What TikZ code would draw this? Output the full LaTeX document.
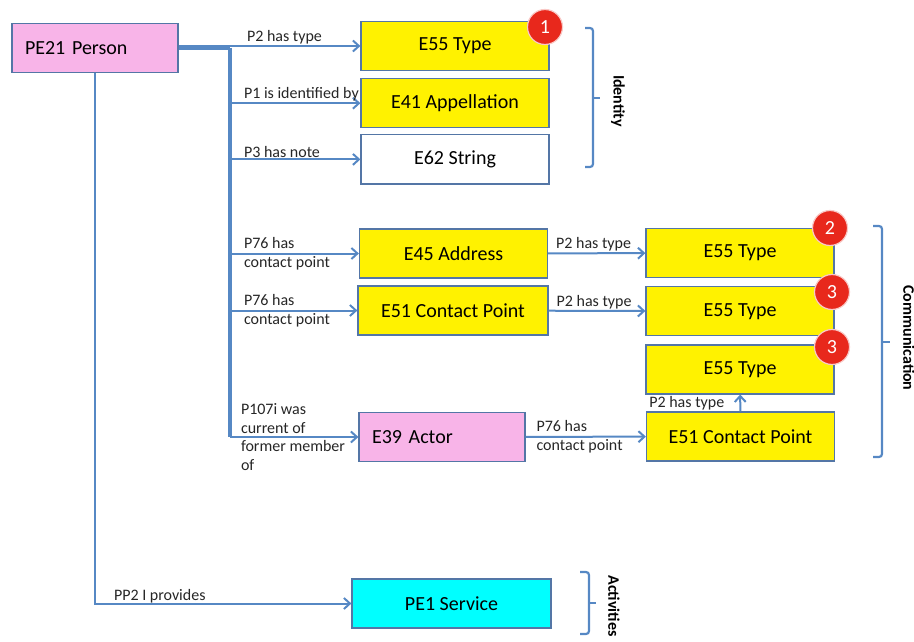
\documentclass[tikz,border=0pt]{standalone}
\usepackage{fontspec}
\setmainfont{Carlito}
\usetikzlibrary{arrows.meta,positioning}
\definecolor{linkblue}{RGB}{86,136,196}
\definecolor{edgeblue}{RGB}{84,118,166}
\definecolor{personpink}{RGB}{248,180,232}
\definecolor{servicecyan}{RGB}{0,255,255}
\definecolor{badgered}{RGB}{232,40,28}
\tikzset{
 box/.style={draw=edgeblue,line width=1.2pt,align=center,minimum height=49pt,
             minimum width=188pt,inner sep=0pt,font=\fontsize{20}{24}\selectfont},
 typebox/.style={box,fill=yellow},
 leftbox/.style={box,fill=personpink,text width=140pt,align=left,minimum width=166pt},
 arrow/.style={-{Straight Barb[length=6pt,width=11pt]},line width=2pt,draw=linkblue},
 trunk/.style={line width=3.5pt,draw=linkblue},
 lbl/.style={font=\fontsize{16}{18.6}\selectfont,align=left,inner sep=1pt,text=black!85},
 badge/.style={circle,fill=badgered,draw=white!75!badgered,line width=1.2pt,
             minimum size=35pt,inner sep=0pt,text=white,font=\fontsize{20}{20}\selectfont},
 brace/.style={line width=2.2pt,draw=linkblue,rounded corners=3pt},
 group/.style={rotate=-90,font=\bfseries\fontsize{16}{16}\selectfont}
}
\begin{document}
\begin{tikzpicture}[x=1pt,y=-1pt]
\useasboundingbox (0,0) rectangle (914,642);

% entities
\node[leftbox] (person) at (95,48) {PE21 Person};
\node[typebox] (type1) at (455,46) {E55 Type};
\node[typebox,below=7pt of type1] (appel) {E41 Appellation};
\node[box,fill=white,below=6pt of appel] (string) {E62 String};
\node[typebox] (address) at (453.5,253.5) {E45 Address};
\node[typebox,minimum width=190pt] (contact) at (453,310.5) {E51 Contact Point};
\node[leftbox] (actor) at (442,437) {E39 Actor};
\node[typebox] (type2) at (740,253) {E55 Type};
\node[typebox,below=8pt of type2] (type3) {E55 Type};
\node[typebox,below=8pt of type3] (type4) {E55 Type};
\node[typebox] (contact2) at (740.5,436.5) {E51 Contact Point};
\node[box,fill=servicecyan,minimum width=199pt] (service) at (451.5,603.5) {PE1 Service};

% trunk
\coordinate (ttop) at (230,48);
\coordinate (tbot) at (230,437);
\draw[trunk,line width=5pt] (person.east) -- (ttop);
\draw[trunk] (ttop) -- (tbot);

% properties
\draw[arrow] (ttop |- type1) -- node[lbl,pos=0,anchor=south west,xshift=15pt] {P2 has type} (type1);
\draw[arrow] (ttop |- appel) -- node[lbl,pos=0,anchor=south west,xshift=12pt] {P1 is identified by} (appel);
\draw[arrow] (ttop |- string) -- node[lbl,pos=0,anchor=south west,xshift=12pt] {P3 has note} (string);
\draw[arrow] (ttop |- address) -- node[lbl,pos=0,anchor=west,xshift=12pt] {P76 has\\contact point} (address);
\draw[arrow] (ttop |- contact) -- node[lbl,pos=0,anchor=west,xshift=12pt] {P76 has\\contact point} (contact);
\draw[arrow] (tbot) -- node[lbl,pos=0,anchor=west,xshift=9pt] {P107i was\\current of\\former member\\of} (actor);
\draw[arrow] (address) -- node[lbl,pos=0,anchor=south west,xshift=6pt] {P2 has type} (type2);
\draw[arrow] (contact) -- node[lbl,pos=0,anchor=south west,xshift=6pt] {P2 has type} (type3);
\draw[arrow] (actor) -- node[lbl,pos=0,anchor=west,xshift=9pt] {P76 has\\contact point} (contact2);
\draw[arrow] (contact2) -- node[lbl,anchor=east,xshift=-14pt] {P2 has type} (type4);
\draw[arrow] (person) |- node[lbl,pos=0.5,anchor=south west,xshift=17pt,yshift=-2pt] {PP2 I provides} (service);

% badges
\node[badge] (b1) at (545,27) {1};
\node[badge] (b2) at (830,228) {2};
\node[badge] (b3) at (832,292) {3};
\node[badge] (b4) at (832,347) {3};

% groups
\draw[brace] (585,28) -- (593,28) -- (593,167) -- (585,167);
\draw[brace] (593,98) -- (600,98);
\node[group] (identity) at (618,101) {Identity};
\draw[brace] (873,226) -- (882,226) -- (882,457) -- (873,457);
\draw[brace] (882,342) -- (890,342);
\node[group] (communication) at (909,338) {Communication};
\draw[brace] (580,572) -- (589,572) -- (589,634) -- (580,634);
\draw[brace] (589,603) -- (596,603);
\node[group] (activities) at (614,606) {Activities};
\end{tikzpicture}
\end{document}
